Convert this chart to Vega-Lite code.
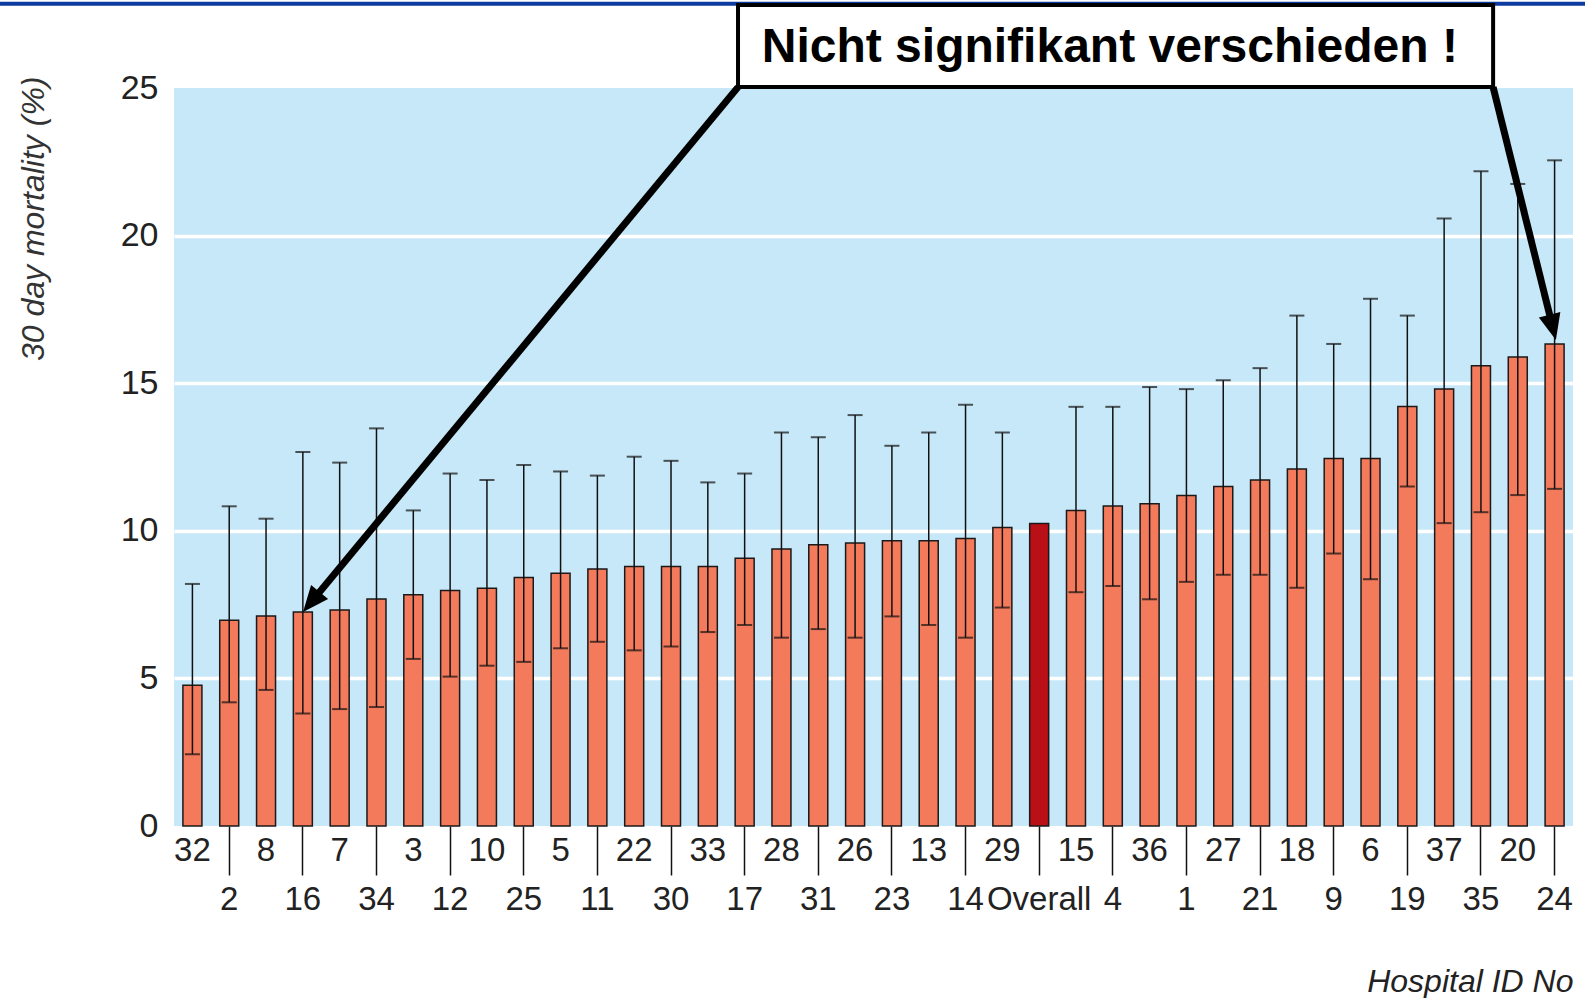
{
  "$schema": "https://vega.github.io/schema/vega-lite/v6.json",
  "width": 1399,
  "height": 738,
  "autosize": "none",
  "padding": {"left": 174, "top": 88, "right": 12, "bottom": 172},
  "background": "white",
  "config": {"view": {"fill": "#c7e8f8", "stroke": null}},
  "layer": [
    {
      "data": {
        "values": [
          {"hospital": "32", "mortality": 4.77, "lower": 2.43, "upper": 8.20},
          {"hospital": "2", "mortality": 6.97, "lower": 4.19, "upper": 10.83},
          {"hospital": "8", "mortality": 7.11, "lower": 4.61, "upper": 10.41},
          {"hospital": "16", "mortality": 7.25, "lower": 3.81, "upper": 12.67},
          {"hospital": "7", "mortality": 7.32, "lower": 3.96, "upper": 12.31},
          {"hospital": "34", "mortality": 7.69, "lower": 4.03, "upper": 13.47},
          {"hospital": "3", "mortality": 7.83, "lower": 5.66, "upper": 10.69},
          {"hospital": "12", "mortality": 7.98, "lower": 5.06, "upper": 11.94},
          {"hospital": "10", "mortality": 8.05, "lower": 5.43, "upper": 11.72},
          {"hospital": "25", "mortality": 8.42, "lower": 5.56, "upper": 12.23},
          {"hospital": "5", "mortality": 8.56, "lower": 6.02, "upper": 12.01},
          {"hospital": "11", "mortality": 8.71, "lower": 6.24, "upper": 11.87},
          {"hospital": "22", "mortality": 8.79, "lower": 5.95, "upper": 12.51},
          {"hospital": "30", "mortality": 8.79, "lower": 6.08, "upper": 12.37},
          {"hospital": "33", "mortality": 8.79, "lower": 6.57, "upper": 11.64},
          {"hospital": "17", "mortality": 9.07, "lower": 6.81, "upper": 11.94},
          {"hospital": "28", "mortality": 9.38, "lower": 6.38, "upper": 13.33},
          {"hospital": "31", "mortality": 9.53, "lower": 6.67, "upper": 13.17},
          {"hospital": "26", "mortality": 9.59, "lower": 6.38, "upper": 13.92},
          {"hospital": "23", "mortality": 9.66, "lower": 7.10, "upper": 12.88},
          {"hospital": "13", "mortality": 9.66, "lower": 6.81, "upper": 13.33},
          {"hospital": "14", "mortality": 9.74, "lower": 6.38, "upper": 14.27},
          {"hospital": "29", "mortality": 10.11, "lower": 7.40, "upper": 13.33},
          {"hospital": "Overall", "mortality": 10.25, "lower": null, "upper": null},
          {"hospital": "15", "mortality": 10.69, "lower": 7.92, "upper": 14.20},
          {"hospital": "4", "mortality": 10.84, "lower": 8.13, "upper": 14.20},
          {"hospital": "36", "mortality": 10.92, "lower": 7.68, "upper": 14.87},
          {"hospital": "1", "mortality": 11.20, "lower": 8.27, "upper": 14.80},
          {"hospital": "27", "mortality": 11.50, "lower": 8.51, "upper": 15.10},
          {"hospital": "21", "mortality": 11.72, "lower": 8.51, "upper": 15.51},
          {"hospital": "18", "mortality": 12.09, "lower": 8.07, "upper": 17.29},
          {"hospital": "9", "mortality": 12.45, "lower": 9.23, "upper": 16.33},
          {"hospital": "6", "mortality": 12.45, "lower": 8.36, "upper": 17.86},
          {"hospital": "19", "mortality": 14.21, "lower": 11.50, "upper": 17.29},
          {"hospital": "37", "mortality": 14.80, "lower": 10.26, "upper": 20.58},
          {"hospital": "35", "mortality": 15.59, "lower": 10.63, "upper": 22.18},
          {"hospital": "20", "mortality": 15.89, "lower": 11.21, "upper": 21.75},
          {"hospital": "24", "mortality": 16.33, "lower": 11.42, "upper": 22.55}
        ]
      },
      "encoding": {
        "x": {
          "field": "hospital",
          "type": "nominal",
          "sort": null,
          "scale": {"paddingInner": 0, "paddingOuter": 0},
          "axis": {
            "title": "Hospital ID No",
            "titleAnchor": "end",
            "titleFont": "Liberation Sans, sans-serif",
            "titleFontStyle": "italic",
            "titleFontWeight": "normal",
            "titleFontSize": 32,
            "titleColor": "#222",
            "titlePadding": 50,
            "labelAngle": 0,
            "labelFont": "Liberation Sans, sans-serif",
            "labelFontSize": 33,
            "labelColor": "#222",
            "labelPadding": 8,
            "labelOverlap": false,
            "domain": false,
            "tickColor": "#111",
            "tickWidth": 1.5,
            "tickSize": {
              "condition": {
                "test": "indexof(['2','16','34','12','25','11','30','17','31','23','14','Overall','4','1','21','9','19','35','24'], datum.value) >= 0",
                "value": 49
              },
              "value": 0
            }
          }
        }
      },
      "layer": [
        {
          "mark": {"type": "bar", "size": 19, "stroke": "#1a1a1a", "strokeWidth": 1.5},
          "encoding": {
            "y": {
              "field": "mortality",
              "type": "quantitative",
              "title": "30 day mortality (%)",
              "scale": {"domain": [0, 25], "nice": false},
              "axis": {
                "titleFont": "Liberation Sans, sans-serif",
                "titleFontStyle": "italic",
                "titleFontWeight": "normal",
                "titleFontSize": 32,
                "titleColor": "#333",
                "titleAnchor": "end",
                "titleY": -12,
                "titlePadding": 70,
                "labelFont": "Liberation Sans, sans-serif",
                "labelFontSize": 34,
                "labelColor": "#222",
                "labelPadding": 16,
                "ticks": false,
                "domain": false,
                "values": [0, 5, 10, 15, 20, 25],
                "gridColor": "white",
                "gridWidth": 3.5,
                "gridOpacity": {
                  "condition": {"test": "datum.value === 0 || datum.value === 25", "value": 0},
                  "value": 1
                }
              }
            },
            "color": {
              "condition": {"test": "datum.hospital === 'Overall'", "value": "#b90f17"},
              "value": "#f47a5c"
            }
          }
        },
        {
          "mark": {"type": "rule", "color": "#111", "strokeWidth": 1.5},
          "encoding": {
            "y": {"field": "lower", "type": "quantitative", "title": "30 day mortality (%)", "scale": {"domain": [0, 25], "nice": false}},
            "y2": {"field": "upper"}
          }
        },
        {
          "mark": {"type": "tick", "color": "#111", "size": 15, "thickness": 2, "orient": "horizontal"},
          "encoding": {
            "y": {"field": "lower", "type": "quantitative", "title": "30 day mortality (%)", "scale": {"domain": [0, 25], "nice": false}}
          }
        },
        {
          "mark": {"type": "tick", "color": "#111", "size": 15, "thickness": 2, "orient": "horizontal"},
          "encoding": {
            "y": {"field": "upper", "type": "quantitative", "title": "30 day mortality (%)", "scale": {"domain": [0, 25], "nice": false}}
          }
        }
      ]
    },
    {
      "layer": [
        {
          "data": {"values": [{"x1": -4.8, "x2": 38.4, "y": 27.85}]},
          "mark": {"type": "rule", "color": "#0d3a9e", "strokeWidth": 4},
          "encoding": {
            "x": {"field": "x1", "type": "quantitative", "scale": {"domain": [0, 38], "nice": false, "zero": false}, "axis": null},
            "x2": {"field": "x2"},
            "y": {"field": "y", "type": "quantitative", "title": "30 day mortality (%)", "scale": {"domain": [0, 25], "nice": false}}
          }
        },
        {
          "data": {"values": [
            {"x1": 15.32, "y1": 25.03, "x2": 3.73, "y2": 7.59},
            {"x1": 35.83, "y1": 25.03, "x2": 37.45, "y2": 16.89}
          ]},
          "mark": {"type": "rule", "color": "black", "strokeWidth": 7, "strokeCap": "butt"},
          "encoding": {
            "x": {"field": "x1", "type": "quantitative", "scale": {"domain": [0, 38], "nice": false, "zero": false}, "axis": null},
            "x2": {"field": "x2"},
            "y": {"field": "y1", "type": "quantitative", "title": "30 day mortality (%)", "scale": {"domain": [0, 25], "nice": false}},
            "y2": {"field": "y2"}
          }
        },
        {
          "data": {"values": [{"x": 3.73, "y": 7.59}]},
          "mark": {"type": "point", "shape": "M0,-1L0.85,1L-0.85,1Z", "size": 676, "filled": true, "color": "black", "opacity": 1, "angle": 219.6},
          "encoding": {
            "x": {"field": "x", "type": "quantitative", "scale": {"domain": [0, 38], "nice": false, "zero": false}, "axis": null},
            "y": {"field": "y", "type": "quantitative", "title": "30 day mortality (%)", "scale": {"domain": [0, 25], "nice": false}}
          }
        },
        {
          "data": {"values": [{"x": 37.45, "y": 16.89}]},
          "mark": {"type": "point", "shape": "M0,-1L0.85,1L-0.85,1Z", "size": 676, "filled": true, "color": "black", "opacity": 1, "angle": 166},
          "encoding": {
            "x": {"field": "x", "type": "quantitative", "scale": {"domain": [0, 38], "nice": false, "zero": false}, "axis": null},
            "y": {"field": "y", "type": "quantitative", "title": "30 day mortality (%)", "scale": {"domain": [0, 25], "nice": false}}
          }
        },
        {
          "data": {"values": [{"x1": 15.32, "x2": 35.83, "y1": 25.03, "y2": 27.81}]},
          "mark": {"type": "rect", "fill": "white", "stroke": "black", "strokeWidth": 4},
          "encoding": {
            "x": {"field": "x1", "type": "quantitative", "scale": {"domain": [0, 38], "nice": false, "zero": false}, "axis": null},
            "x2": {"field": "x2"},
            "y": {"field": "y1", "type": "quantitative", "title": "30 day mortality (%)", "scale": {"domain": [0, 25], "nice": false}},
            "y2": {"field": "y2"}
          }
        },
        {
          "data": {"values": [{"label": "Nicht signifikant verschieden !", "x": 25.42, "y": 25.88}]},
          "mark": {"type": "text", "font": "Liberation Sans, sans-serif", "fontWeight": "bold", "fontSize": 48, "color": "black", "align": "center", "baseline": "alphabetic"},
          "encoding": {
            "x": {"field": "x", "type": "quantitative", "scale": {"domain": [0, 38], "nice": false, "zero": false}, "axis": null},
            "y": {"field": "y", "type": "quantitative", "title": "30 day mortality (%)", "scale": {"domain": [0, 25], "nice": false}},
            "text": {"field": "label"}
          }
        }
      ]
    }
  ],
  "resolve": {"scale": {"x": "independent"}}
}
